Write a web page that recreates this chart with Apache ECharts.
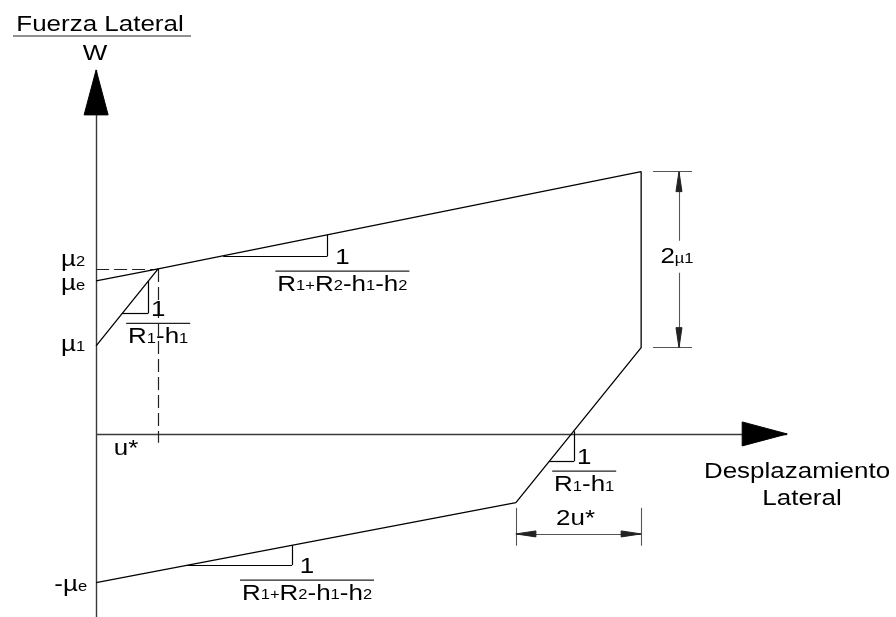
<!DOCTYPE html>
<html>
<head>
<meta charset="utf-8">
<script src="https://cdn.jsdelivr.net/npm/echarts@6/dist/echarts.min.js"></script>
<style>
  html, body { margin: 0; padding: 0; background: #fff; }
  #chart { width: 896px; height: 617px; }
</style>
</head>
<body>
<div id="chart"></div>
<script>
// Lateral displacement in units of u*, lateral force / W in units where mu1 = 1
const uStar = 1;
const mu1 = 1.0;
const mu2 = 1.875;
const muE = 1.74;
const muENeg = -1.69;

// Hysteresis loop vertices (displacement, force)
const loopU = [0, 1, 8.79, 8.79, 6.77, 0];
const loopF = [1.0, 1.875, 2.98, 0.98, -0.78, -1.69];

// Post-yield branch projected back to the force axis (mu_e)
const extU = [0, 1];
const extF = [1.74, 1.875];

// Slope triangles: horizontal leg from start to end, vertical leg at end
const triStartU = [0.42, 2.05, 1.47, 7.31];
const triEndU   = [0.84, 3.73, 3.16, 7.71];
const triStartF = [1.37, 2.02, -1.49, -0.31];
const triEndF   = [1.735, 2.26, -1.265, 0.03];

// Axis extents (arrow tips) and lower end of the force axis
const axisTipU = 11.145;
const axisTipF = 4.136;
const axisBottomF = -2.08;
const uStarGuideBottom = -0.10;

// Dimension "2u*": between loop vertices at u = 6.77 and u = 8.79
const dimU = [6.77, 8.79];
const dimULevel = -1.136;
const dimUExt = [-0.84, -1.27];

// Dimension "2 mu1": between F = 2.98 and F = 0.98
const dimF = [0.98, 2.98];
const dimFLevel = 9.40;
const dimFExt = [8.98, 9.61];

const FONT = '"Liberation Sans", Arial, Helvetica, sans-serif';
const FS = 22;
const STRETCH = 1.18;
const RICH = {
  m: { fontSize: FS, lineHeight: FS, fontFamily: FONT, verticalAlign: 'bottom', fill: '#000' },
  s: { fontSize: 14, lineHeight: 14, fontFamily: FONT, verticalAlign: 'bottom', fill: '#000', padding: [0, 0, 2, 0] }
};

const BLACK = '#000';
const AXIS = '#3a3a3a';
const DIM = '#555';

// ---- segments ----
const solidSegments = [];
const dimSegments = [];
const axisSegments = [];
const dashedSegments = [];

axisSegments.push({ coords: [[0, 0], [axisTipU, 0]] });
axisSegments.push({ coords: [[0, axisBottomF], [0, axisTipF]] });

dashedSegments.push({ coords: [[0, mu2], [uStar, mu2]] });
dashedSegments.push({ coords: [[uStar, mu2], [uStar, uStarGuideBottom]] });

for (let i = 0; i < triStartU.length; i++) {
  solidSegments.push({ coords: [[triStartU[i], triStartF[i]], [triEndU[i], triStartF[i]]] });
  solidSegments.push({ coords: [[triEndU[i], triStartF[i]], [triEndU[i], triEndF[i]]] });
}

// 2u* dimension
dimSegments.push({ coords: [[dimU[0], dimUExt[0]], [dimU[0], dimUExt[1]]] });
dimSegments.push({ coords: [[dimU[1], dimUExt[0]], [dimU[1], dimUExt[1]]] });
dimSegments.push({ coords: [[dimU[0], dimULevel], [dimU[1], dimULevel]] });
// 2 mu1 dimension
dimSegments.push({ coords: [[dimFExt[0], dimF[0]], [dimFExt[1], dimF[0]]] });
dimSegments.push({ coords: [[dimFExt[0], dimF[1]], [dimFExt[1], dimF[1]]] });
dimSegments.push({ coords: [[dimFLevel, dimF[0]], [dimFLevel, dimF[1]]] });

// ---- arrowheads: tip + pointing direction ----
const bigArrows = [
  [0, axisTipF, 0, 1],
  [axisTipU, 0, 1, 0]
];
const smallArrows = [
  [dimU[0], dimULevel, -1, 0],
  [dimU[1], dimULevel, 1, 0],
  [dimFLevel, dimF[1], 0, 1],
  [dimFLevel, dimF[0], 0, -1]
];

function arrowRenderer(len, half, color) {
  return function (params, api) {
    const tu = api.value(0), tf = api.value(1);
    const du = api.value(2), df = api.value(3);
    const tip = api.coord([tu, tf]);
    const back = api.coord([tu - du * 0.1, tf - df * 0.1]);
    let vx = tip[0] - back[0], vy = tip[1] - back[1];
    const n = Math.hypot(vx, vy) || 1;
    vx /= n; vy /= n;
    const bx = tip[0] - vx * len, by = tip[1] - vy * len;
    return {
      type: 'polygon',
      shape: { points: [tip, [bx - vy * half, by + vx * half], [bx + vy * half, by - vx * half]] },
      style: { fill: color, stroke: color, lineWidth: 1 }
    };
  };
}

// ---- text annotations anchored on diagram values ----
const labels = [
  { at: [0, mu2], text: '{m|µ}{s|2}', dx: -11, dy: -9, align: 'right' },
  { at: [0, muE], text: '{m|µ}{s|e}', dx: -11, dy: 3, align: 'right' },
  { at: [0, mu1], text: '{m|µ}{s|1}', dx: -11, dy: -1, align: 'right' },
  { at: [0, muENeg], text: '{m|-µ}{s|e}', dx: -9, dy: 2, align: 'right' },
  { at: [uStar, 0], text: '{m|u*}', dx: -32, dy: 15 },
  { at: [(dimU[0] + dimU[1]) / 2, dimULevel], text: '{m|2u*}', dx: -3, dy: -15 },
  { at: [dimFLevel, (dimF[0] + dimF[1]) / 2], text: '{m|2}{s|µ1}', dx: -2, dy: -3, bg: '#fff', pad: [5, 2, 5, 2] }
];

const denSmall = '{m|R}{s|1}{m|-h}{s|1}';
const denBig = '{m|R}{s|1+}{m|R}{s|2}{m|-h}{s|1}{m|-h}{s|2}';
// fraction "1 / ..." placed beside each slope triangle
const fractions = [
  { tri: 0, den: denSmall, dx: 10, bar: 10, half: 32 },
  { tri: 1, den: denBig, dx: 15, bar: 15, half: 67 },
  { tri: 2, den: denBig, dx: 15, bar: 15, half: 67 },
  { tri: 3, den: denSmall, dx: 10, bar: 10, half: 32 }
];

function textEl(x, y, text, align, extra) {
  const style = Object.assign({
    text: text, rich: RICH, fontSize: FS, fontFamily: FONT, fill: '#000',
    align: align || 'center', verticalAlign: 'middle'
  }, extra || {});
  return { type: 'text', x: x, y: y, scaleX: STRETCH, style: style };
}

function renderLabel(params, api) {
  const L = labels[params.dataIndex];
  const p = api.coord([api.value(0), api.value(1)]);
  const extra = L.bg ? { backgroundColor: L.bg, padding: L.pad } : null;
  return textEl(p[0] + L.dx, p[1] + L.dy, L.text, L.align, extra);
}

function renderFraction(params, api) {
  const F = fractions[params.dataIndex];
  const p = api.coord([api.value(0), api.value(1)]);
  const cx = p[0] + F.dx;
  const by = p[1] + F.bar;
  return {
    type: 'group',
    children: [
      textEl(cx, by - 13.5, '{m|1}', 'center'),
      { type: 'line', shape: { x1: cx - F.half, y1: by, x2: cx + F.half, y2: by },
        style: { stroke: '#222', lineWidth: 1.2 } },
      textEl(cx, by + 13.5, F.den, 'center')
    ]
  };
}

const chart = echarts.init(document.getElementById('chart'), null, { renderer: 'canvas' });

function titleText(x, y, text) {
  return { type: 'text', x: x, y: y, scaleX: STRETCH, silent: true,
    style: { text: text, fontSize: FS, fontFamily: FONT, fill: '#000', align: 'center', verticalAlign: 'middle' } };
}

chart.setOption({
  animation: false,
  backgroundColor: '#fff',
  grid: { left: 0, right: 0, top: 0, bottom: 0, containLabel: false },
  xAxis: { type: 'value', min: -1.55, max: 12.9, show: false },
  yAxis: { type: 'value', min: axisBottomF, max: 4.93, show: false },
  graphic: [
    titleText(100, 25, 'Fuerza Lateral'),
    { type: 'line', silent: true, shape: { x1: 13, y1: 36, x2: 191, y2: 36 },
      style: { stroke: '#222', lineWidth: 1.2 } },
    titleText(95, 54, 'W'),
    titleText(797, 472, 'Desplazamiento'),
    titleText(802, 499, 'Lateral')
  ],
  series: [
    { type: 'lines', coordinateSystem: 'cartesian2d', silent: true, z: 1,
      data: axisSegments, lineStyle: { color: AXIS, width: 1.4, opacity: 1 } },
    { type: 'lines', coordinateSystem: 'cartesian2d', silent: true, z: 2,
      data: dashedSegments, lineStyle: { color: '#222', width: 1.2, opacity: 1, type: [13, 5] } },
    { type: 'line', silent: true, z: 3, symbol: 'none',
      data: loopU.map((u, i) => [u, loopF[i]]),
      lineStyle: { color: BLACK, width: 1.3 } },
    { type: 'line', silent: true, z: 3, symbol: 'none',
      data: extU.map((u, i) => [u, extF[i]]),
      lineStyle: { color: BLACK, width: 1.3 } },
    { type: 'lines', coordinateSystem: 'cartesian2d', silent: true, z: 3,
      data: solidSegments, lineStyle: { color: BLACK, width: 1.2, opacity: 1 } },
    { type: 'lines', coordinateSystem: 'cartesian2d', silent: true, z: 3,
      data: dimSegments, lineStyle: { color: DIM, width: 1.1, opacity: 1 } },
    { type: 'custom', silent: true, z: 5, renderItem: arrowRenderer(45, 12, '#000'), data: bigArrows },
    { type: 'custom', silent: true, z: 5, renderItem: arrowRenderer(20, 3, '#222'), data: smallArrows },
    { type: 'custom', silent: true, z: 6, renderItem: renderLabel,
      data: labels.map(l => [l.at[0], l.at[1]]) },
    { type: 'custom', silent: true, z: 6, renderItem: renderFraction,
      data: fractions.map(f => [triEndU[f.tri], triStartF[f.tri]]) }
  ]
});
</script>
</body>
</html>
